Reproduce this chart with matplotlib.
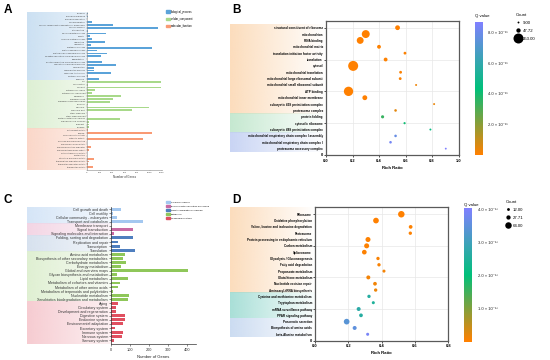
import numpy as np
import matplotlib
matplotlib.use('Agg')
import matplotlib.pyplot as plt
from matplotlib.colors import LinearSegmentedColormap, Normalize, to_rgb
from matplotlib.patches import Patch
from matplotlib.lines import Line2D
import matplotlib.cm as cm

plt.rcParams['font.family'] = ['Liberation Sans', 'DejaVu Sans']

# ---------------- A: GO classification ----------------
bp_terms = ['behavior', 'biological adhesion', 'biological regulation', 'cell proliferation',
            'cellular component organization or biogenesis', 'cellular process', 'detoxification',
            'developmental process', 'growth', 'immune system process', 'localization', 'locomotion',
            'metabolic process', 'multi-organism process', 'multicellular organismal process',
            'negative regulation of biological process', 'pigmentation',
            'positive regulation of biological process', 'regulation of biological process',
            'reproduction', 'reproductive process', 'response to stimulus', 'rhythmic process', 'signaling']
bp_counts = [20, 20, 5, 75, 420, 1140, 8, 304, 48, 75, 293, 59, 1035, 155, 315, 219, 6,
             235, 459, 112, 112, 379, 15, 197]
cc_terms = ['cell', 'cell junction', 'cell part', 'extracellular region', 'extracellular region part',
            'membrane', 'membrane part', 'membrane-enclosed lumen', 'nucleoid', 'organelle',
            'organelle part', 'other organism', 'other organism part', 'protein-containing complex',
            'supramolecular complex', 'symplast', 'synapse']
cc_counts = [1190, 15, 1190, 128, 75, 540, 408, 368, 8, 997, 715, 5, 5, 522, 30, 25, 25]
mf_terms = ['antioxidant activity', 'binding', 'cargo receptor activity', 'catalytic activity',
            'hijacked molecular function', 'molecular carrier activity', 'molecular function regulator',
            'molecular transducer activity', 'nutrient reservoir activity', 'protein tag',
            'structural molecule activity', 'transcription regulator activity',
            'translation regulator activity', 'transporter activity']
mf_counts = [12, 1035, 3, 890, 2, 5, 64, 37, 3, 2, 117, 37, 8, 101]
go_classes = ['biological_process', 'cellular_component', 'molecular_function']

# ---------------- B: GO enrichment ----------------
b_terms = ['structural constituent of ribosome', 'mitochondrion', 'RNA binding', 'mitochondrial matrix',
           'translation initiation factor activity', 'translation', 'cytosol', 'mitochondrial translation',
           'mitochondrial large ribosomal subunit', 'mitochondrial small ribosomal subunit', 'ATP binding',
           'mitochondrial inner membrane', 'eukaryotic 43S preinitiation complex', 'proteasome complex',
           'protein folding', 'cytosolic ribosome', 'eukaryotic 48S preinitiation complex',
           'mitochondrial respiratory chain complex I assembly', 'mitochondrial respiratory chain complex I',
           'proteasome accessory complex']
b_ratio = [0.54, 0.30, 0.258, 0.40, 0.596, 0.45, 0.205, 0.563, 0.56, 0.68, 0.17, 0.293, 0.816, 0.525,
           0.427, 0.593, 0.788, 0.525, 0.487, 0.904]
b_count = [58, 160, 120, 37, 20, 37, 253, 20, 20, 10, 220, 60, 10, 17, 25, 12, 10, 17, 17, 9]
b_q = [0.02, 0.01, 0.02, 0.05, 0.1, 0.05, 0.01, 0.1, 0.1, 0.3, 0.01, 0.03, 0.4, 0.5,
       3.4, 4.1, 4.6, 7.8, 8.3, 8.7]  # x 1e-11
b_bands = [14, 3, 3]
b_count_legend = [9.00, 47.72, 253.00]

# ---------------- C: KEGG classification ----------------
kegg_classes = ['Cellular Processes', 'Environmental Information Processing',
                'Genetic Information Processing', 'Metabolism', 'Organismal Systems']
c_cp = ['Cell growth and death', 'Cell motility', 'Cellular community - eukaryotes', 'Transport and catabolism']
c_cp_n = [52, 12, 30, 167]
c_eip = ['Membrane transport', 'Signal transduction', 'Signaling molecules and interaction']
c_eip_n = [1, 117, 17]
c_gip = ['Folding, sorting and degradation', 'Replication and repair', 'Transcription', 'Translation']
c_gip_n = [114, 38, 47, 125]
c_met = ['Amino acid metabolism', 'Biosynthesis of other secondary metabolites', 'Carbohydrate metabolism',
         'Energy metabolism', 'Global and overview maps', 'Glycan biosynthesis and metabolism',
         'Lipid metabolism', 'Metabolism of cofactors and vitamins', 'Metabolism of other amino acids',
         'Metabolism of terpenoids and polyketides', 'Nucleotide metabolism',
         'Xenobiotics biodegradation and metabolism']
c_met_n = [74, 65, 79, 53, 404, 30, 88, 47, 38, 12, 96, 89]
c_os = ['Aging', 'Circulatory system', 'Development and regeneration', 'Digestive system',
        'Endocrine system', 'Environmental adaptation', 'Excretory system', 'Immune system',
        'Nervous system', 'Sensory system']
c_os_n = [37, 26, 24, 75, 74, 61, 21, 65, 59, 14]

# ---------------- D: KEGG enrichment ----------------
d_terms = ['Ribosome', 'Oxidative phosphorylation', 'Valine, leucine and isoleucine degradation',
           'Proteasome', 'Protein processing in endoplasmic reticulum', 'Carbon metabolism', 'Spliceosome',
           'Glycolysis / Gluconeogenesis', 'Fatty acid degradation', 'Propanoate metabolism',
           'Glutathione metabolism', 'Nucleotide excision repair', 'Aminoacyl-tRNA biosynthesis',
           'Cysteine and methionine metabolism', 'Tryptophan metabolism', 'mRNA surveillance pathway',
           'PPAR signaling pathway', 'Pancreatic secretion', 'Biosynthesis of amino acids',
           'beta-Alanine metabolism']
d_ratio = [0.518, 0.366, 0.574, 0.572, 0.318, 0.31, 0.296, 0.378, 0.384, 0.414, 0.32, 0.36, 0.364,
           0.324, 0.35, 0.262, 0.276, 0.19, 0.238, 0.316]
d_count = [64, 49, 21, 17, 38, 38, 33, 17, 17, 14, 24, 21, 17, 17, 14, 24, 21, 49, 24, 14]
d_q = [0.01, 0.01, 0.02, 0.02, 0.03, 0.03, 0.03, 0.05, 0.05, 0.08, 0.1, 0.12, 0.15,
       2.6, 2.5, 2.7, 2.6, 3.4, 3.5, 3.9]  # x 1e-13
d_bands = [13, 4, 3]
d_count_legend = [12.00, 27.71, 64.00]

W, H = 550, 360
fig = plt.figure(figsize=(W / 100, H / 100), dpi=100)


def frame(l, t, r, b):
    return [l / W, 1 - b / H, (r - l) / W, (b - t) / H]


def shade(l, t, r, b, ylim, bands):
    # gradient boxes behind the tick labels
    bg = fig.add_axes(frame(l, t, r, b), zorder=0)
    for y0, y1, col, a0, a1 in bands:
        grad = np.zeros((2, 256, 4))
        grad[..., :3] = to_rgb(col)
        grad[..., 3] = np.linspace(a0, a1, 256)
        bg.imshow(grad, extent=(0, 1, y0, y1), aspect='auto', interpolation='bilinear')
    bg.set_xlim(0, 1)
    bg.set_ylim(*ylim)
    bg.axis('off')


def size_legend(values, sfunc, x, y, fs):
    handles = [Line2D([], [], ls='', marker='o', color='black', markeredgewidth=0,
                      markersize=np.sqrt(sfunc(v))) for v in values]
    fig.legend(handles, ['%.2f' % v for v in values], loc='upper left',
               bbox_to_anchor=(x / W, 1 - y / H), frameon=False, title='Count',
               fontsize=fs, title_fontsize=fs, alignment='left', handlelength=1.0,
               handletextpad=0.5, labelspacing=0.9, borderaxespad=0, borderpad=0)


def enrich_axes(box, terms, ratio, count, q, sfunc, norm, cmap, xmax):
    ax = fig.add_axes(frame(*box), zorder=1)
    n = len(terms)
    y = np.arange(n, 0, -1)
    ax.scatter(ratio, y, s=sfunc(np.array(count)), c=q, cmap=cmap, norm=norm,
               edgecolors='none', zorder=3, clip_on=False)
    ax.set_xlim(0, xmax)
    ax.set_ylim(0, 21.1)
    major = [0, 5, 10, 15, 20]
    ax.set_yticks(major)
    ax.set_yticklabels(['0'] + [terms[n - v] for v in major[1:]], fontweight='bold')
    minor = [v for v in y if v not in major]
    ax.set_yticks(minor, minor=True)
    ax.set_yticklabels([terms[n - v] for v in minor], minor=True, fontweight='bold')
    ax.tick_params(axis='y', which='major', length=1.7, width=0.6, pad=0.5, labelsize=2.2, color='#333')
    ax.tick_params(axis='y', which='minor', length=0, pad=2.2, labelsize=2.2)
    ax.get_yticklabels()[0].set_fontsize(2.9)
    ax.set_xticks(np.arange(0, xmax + 0.01, 0.2))
    ax.set_xticklabels(['%.1f' % v for v in np.arange(0, xmax + 0.01, 0.2)], fontweight='bold')
    ax.tick_params(axis='x', length=1.7, width=0.6, pad=1.0, labelsize=2.9, color='#333')
    ax.grid(True, which='major', color='#e8e8e8', lw=0.5)
    ax.set_axisbelow(True)
    for sp in ax.spines.values():
        sp.set_color('#5a5a5a')
        sp.set_linewidth(0.9)
    ax.set_xlabel('Rich Ratio', fontsize=3.1, fontweight='bold', labelpad=2)
    ax.patch.set_alpha(0)
    return ax


cmap = LinearSegmentedColormap.from_list('qv', ['#ff8000', '#00c07a', '#8080ff'])

# ---------------- A ----------------
a_terms = bp_terms + cc_terms + mf_terms
a_counts = bp_counts + cc_counts + mf_counts
a_cols = ['#5ba3d9'] * len(bp_terms) + ['#a8d98a'] * len(cc_terms) + ['#f99a74'] * len(mf_terms)
nA = len(a_terms)
rowsA = np.arange(nA)
ylimA = (nA, -0.6)
axA = fig.add_axes(frame(87, 11.9, 162, 170), zorder=1)
axA.barh(rowsA, a_counts, height=0.62, color=a_cols)
axA.set_ylim(*ylimA)
axA.set_xlim(0, 1200)
axA.set_yticks(rowsA)
axA.set_yticklabels(a_terms, color='#444')
axA.set_xticks(np.arange(0, 1201, 200))
axA.tick_params(axis='y', length=1.0, width=0.3, pad=0.4, labelsize=1.6, color='#888')
axA.tick_params(axis='x', length=1.0, width=0.3, pad=0.6, labelsize=1.7, color='#888', labelcolor='#444')
for s in ['top', 'right']:
    axA.spines[s].set_visible(False)
for s in ['left', 'bottom']:
    axA.spines[s].set_color('#888')
    axA.spines[s].set_linewidth(0.4)
axA.set_xlabel('Number of Genes', fontsize=2.1, color='#333', labelpad=1.5)
axA.patch.set_alpha(0)
nb, nc = len(bp_terms), len(cc_terms)
shade(27, 11.9, 87, 170, ylimA, [(-0.6, nb - 0.5, '#c9dff2', 0.95, 0.45),
                                 (nb - 0.5, nb + nc - 0.5, '#dcefd2', 0.95, 0.45),
                                 (nb + nc - 0.5, nA, '#fbd5c6', 0.95, 0.45)])
fig.legend([Patch(color=c) for c in ['#5ba3d9', '#a8d98a', '#f99a74']], go_classes,
           loc='upper left', bbox_to_anchor=(166 / W, 1 - 9.5 / H), frameon=False, fontsize=1.9,
           handlelength=1.4, handleheight=0.9, handletextpad=0.5, labelspacing=1.2,
           borderaxespad=0, borderpad=0)

# ---------------- B ----------------
size_b = lambda c: 51.8 * np.asarray(c, dtype=float) / 253
normB = Normalize(0, 8.7)
axB = enrich_axes((326, 20.7, 458.5, 155), b_terms, b_ratio, b_count, b_q, size_b, normB, cmap, 1.0)
o, g, _ = b_bands
shade(230, 20.7, 326, 155, (0, 21.1), [(20.5 - o, 20.5, '#fcd9b5', 0.9, 0.0),
                                       (20.5 - o - g, 20.5 - o, '#bfe6cb', 0.9, 0.0),
                                       (0.5, 20.5 - o - g, '#c3d0f3', 0.9, 0.0)])
caxB = fig.add_axes(frame(475, 22, 482.5, 155))
cbB = fig.colorbar(cm.ScalarMappable(norm=normB, cmap=cmap), cax=caxB)
cbB.outline.set_visible(False)
cbB.set_ticks([2, 4, 6, 8])
cbB.set_ticklabels(['%.1f × 10⁻¹¹' % v for v in [2, 4, 6, 8]])
caxB.tick_params(length=0, pad=4.3, labelsize=3.0, labelcolor='#222')
caxB.text(0, 1.03, 'Q value', transform=caxB.transAxes, ha='left', va='bottom', fontsize=3.1)
size_legend(b_count_legend, size_b, 516, 13, 3.1)

# ---------------- C ----------------
c_groups = [(c_cp, c_cp_n, '#a4c8f0', '#d3e4f7'), (c_eip, c_eip_n, '#c86aa4', '#f3d3e3'),
            (c_gip, c_gip_n, '#4f7fbf', '#d5e0ee'), (c_met, c_met_n, '#8fc75a', '#deefd0'),
            (c_os, c_os_n, '#e05060', '#f6c9cf')]
c_terms = [t for grp in c_groups for t in grp[0]]
c_counts = [v for grp in c_groups for v in grp[1]]
c_cols = [grp[2] for grp in c_groups for _ in grp[0]]
nC = len(c_terms)
rowsC = np.arange(nC)
ylimC = (nC - 0.02, -0.6)
axC = fig.add_axes(frame(111, 206.8, 195.7, 344.3), zorder=1)
axC.barh(rowsC, c_counts, height=0.7, color=c_cols)
axC.set_ylim(*ylimC)
axC.set_xlim(0, 445)
axC.set_yticks(rowsC)
axC.set_yticklabels(c_terms, color='#333')
axC.set_xticks(np.arange(0, 401, 100))
axC.tick_params(axis='y', length=1.7, width=0.4, pad=0.5, labelsize=2.6, color='#333')
axC.tick_params(axis='x', length=1.5, width=0.4, pad=1.0, labelsize=2.8, color='#333', labelcolor='#333')
for s in ['top', 'right']:
    axC.spines[s].set_visible(False)
for s in ['left', 'bottom']:
    axC.spines[s].set_color('#333')
    axC.spines[s].set_linewidth(0.5)
axC.set_xlabel('Number of Genes', fontsize=3.0, color='#222', labelpad=2)
axC.patch.set_alpha(0)
bandsC = []
start = -0.6
pos = 0
for grp in c_groups:
    pos += len(grp[0])
    end = pos - 0.5 if pos < nC else ylimC[0]
    bandsC.append((start, end, grp[3], 0.95, 0.25))
    start = end
shade(27, 206.8, 111, 344.3, ylimC, bandsC)
fig.legend([Patch(color=grp[2]) for grp in c_groups], kegg_classes, loc='upper left',
           bbox_to_anchor=(165.5 / W, 1 - 201 / H), frameon=False, fontsize=1.6,
           handlelength=1.8, handleheight=1.0, handletextpad=0.6, labelspacing=0.9,
           borderaxespad=0, borderpad=0)

# ---------------- D ----------------
size_d = lambda c: 21.9 * np.asarray(c, dtype=float) / 64
normD = Normalize(0, 4.03)
axD = enrich_axes((315, 207.3, 448.3, 340.6), d_terms, d_ratio, d_count, d_q, size_d, normD, cmap, 0.8)
o, g, _ = d_bands
shade(230, 207.3, 315, 340.6, (0, 21.1), [(20.5 - o, 21.1, '#fcd9b5', 0.9, 0.0),
                                          (20.5 - o - g, 20.5 - o, '#9fdcd3', 0.9, 0.05),
                                          (0.5, 20.5 - o - g, '#c6d8f0', 0.9, 0.0)])
caxD = fig.add_axes(frame(464.3, 208.3, 472.3, 341.5))
cbD = fig.colorbar(cm.ScalarMappable(norm=normD, cmap=cmap), cax=caxD)
cbD.outline.set_visible(False)
cbD.set_ticks([1, 2, 3, 4])
cbD.set_ticklabels(['%.1f × 10⁻¹³' % v for v in [1, 2, 3, 4]])
caxD.tick_params(length=0, pad=4.3, labelsize=3.0, labelcolor='#222')
caxD.text(0, 1.01, 'Q value', transform=caxD.transAxes, ha='left', va='bottom', fontsize=3.1)
size_legend(d_count_legend, size_d, 506, 200, 3.1)

# panel letters
for letter, x, y in [('A', 3.5, 13.3), ('B', 232.7, 13.3), ('C', 3.5, 202.7), ('D', 232.7, 202.7)]:
    fig.text(x / W, 1 - y / H, letter, fontsize=8.5, fontweight='bold', ha='left', va='baseline')

fig.savefig('out.png', dpi=100)
